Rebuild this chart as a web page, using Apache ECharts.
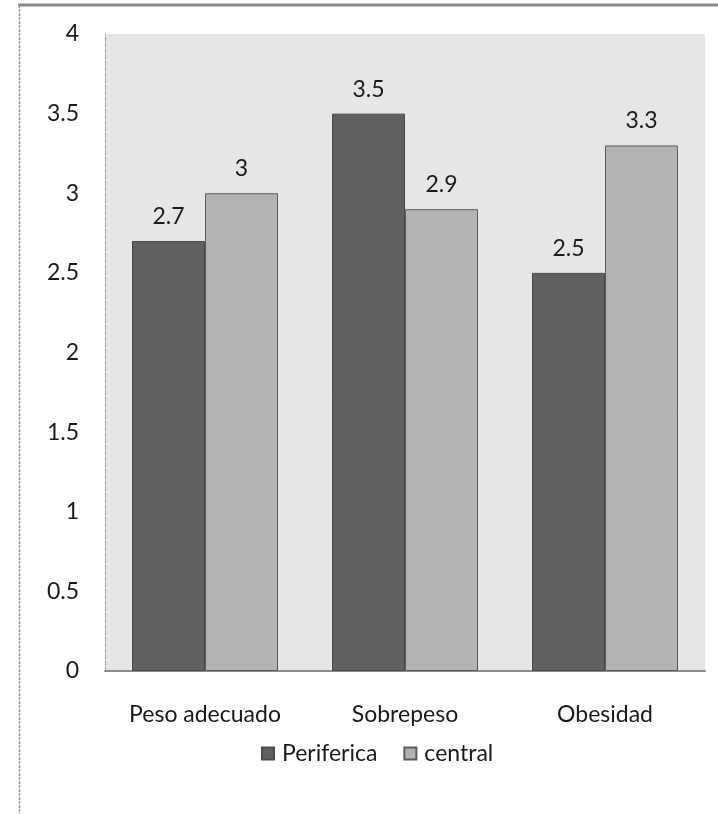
<!DOCTYPE html>
<html>
<head>
<meta charset="utf-8">
<script src="https://cdn.jsdelivr.net/npm/echarts@6/dist/echarts.min.js"></script>
<style>
  html, body { margin: 0; padding: 0; background: #ffffff; }
  #chart { width: 718px; height: 814px; }
</style>
</head>
<body>
<div id="chart"></div>
<script>
// Categories and values per series
const categories = ['Peso adecuado', 'Sobrepeso', 'Obesidad'];
const periferica = [2.7, 3.5, 2.5];
const central = [3.0, 2.9, 3.3];
const yTicks = { min: 0, max: 4, interval: 0.5 };

const FONT = 'Lato, "Open Sans", sans-serif';
const FS = 23;

const chart = echarts.init(document.getElementById('chart'));

const labelCfg = {
  show: true,
  position: 'top',
  distance: 13,
  color: '#1a1a1a',
  fontSize: FS,
  fontFamily: FONT,
  formatter: p => String(p.value)
};

chart.setOption({
  animation: false,
  backgroundColor: '#ffffff',
  textStyle: { fontFamily: FONT },
  graphic: [
    // outer chart frame: heavy top edge and thin left edge
    { type: 'line', shape: { x1: 18, y1: 5, x2: 718, y2: 5 }, style: { stroke: '#8a8a8a', lineWidth: 3 } },
    { type: 'line', shape: { x1: 19.5, y1: 5, x2: 19.5, y2: 814 }, style: { stroke: '#9a9a9a', lineWidth: 1.5, lineDash: [3, 1] } }
  ],
  grid: {
    left: 105, right: 13, top: 34, bottom: 143,
    show: true, backgroundColor: '#e6e6e6', borderWidth: 0
  },
  legend: {
    top: 737,
    left: 256,
    itemWidth: 12,
    itemHeight: 12,
    itemGap: 26,
    icon: 'rect',
    textStyle: { fontSize: FS, color: '#1a1a1a', fontFamily: FONT, padding: [0, 0, 0, 3] },
    data: ['Periferica', 'central']
  },
  xAxis: {
    type: 'category',
    data: categories,
    axisLine: { show: true, lineStyle: { color: '#8c8c8c', width: 2 } },
    axisTick: { show: false },
    axisLabel: { fontSize: FS, color: '#1a1a1a', fontFamily: FONT, margin: 32 }
  },
  yAxis: {
    type: 'value',
    min: yTicks.min, max: yTicks.max, interval: yTicks.interval,
    axisLine: { show: true, lineStyle: { color: '#a0a0a0', width: 1, type: 'dashed' } },
    axisTick: { show: false },
    splitLine: { show: false },
    axisLabel: { fontSize: FS, color: '#1a1a1a', fontFamily: FONT, margin: 26 }
  },
  series: [
    {
      name: 'Periferica', type: 'bar', data: periferica,
      barGap: '0%', barCategoryGap: '27%',
      itemStyle: { color: '#606060', borderColor: '#4a4a4a', borderWidth: 1 },
      label: labelCfg
    },
    {
      name: 'central', type: 'bar', data: central,
      itemStyle: { color: '#b3b3b3', borderColor: '#5a5a5a', borderWidth: 1 },
      label: labelCfg
    }
  ]
});
</script>
</body>
</html>
